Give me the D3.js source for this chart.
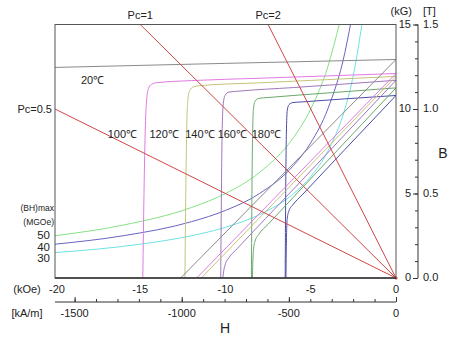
<!DOCTYPE html>
<html>
<head>
<meta charset="utf-8">
<script src="https://cdn.jsdelivr.net/npm/d3@7"></script>
<style>
  html, body { margin: 0; padding: 0; background: #fff; }
  svg text { font-family: "Liberation Sans", Arial, sans-serif; fill: #222; }
</style>
</head>
<body>
<svg id="chart" width="450" height="338"></svg>
<script>
// demagnetization curves, H in kOe, B / J in kG
const temps = ["20℃", "100℃", "120℃", "140℃", "160℃", "180℃"];

// intrinsic (J) curves per temperature
const jCurves = [
  [[-20, 12.46], [-10, 12.70], [0, 12.93]],
  [[-14.85, 0], [-14.78, 5], [-14.7, 9], [-14.62, 10.6], [-14.52, 11.2], [-14.35, 11.45], [-14.0, 11.56], [-12, 11.68], [-8, 11.82], [-4, 11.96], [0, 12.1]],
  [[-12.38, 0], [-12.33, 5], [-12.27, 9], [-12.2, 10.6], [-12.1, 11.1], [-11.9, 11.3], [-11.5, 11.38], [-8, 11.55], [-4, 11.74], [0, 11.93]],
  [[-10.28, 0], [-10.24, 5], [-10.19, 9], [-10.13, 10.3], [-10.03, 10.8], [-9.8, 11.0], [-9.3, 11.05], [-6, 11.27], [-3, 11.48], [0, 11.7]],
  [[-8.48, 0], [-8.45, 5], [-8.41, 8.5], [-8.36, 10.0], [-8.27, 10.45], [-8.05, 10.63], [-7.5, 10.68], [-4, 10.95], [0, 11.25]],
  [[-6.5, 0], [-6.47, 5], [-6.43, 8.5], [-6.38, 9.9], [-6.28, 10.25], [-6.05, 10.38], [-5.5, 10.42], [-3, 10.6], [0, 10.8]]
];

// normal (B) curves per temperature
const bCurves = [
  [[-12.63, 0], [-6, 6.79], [0, 12.93]],
  [[-11.69, 0], [-6, 5.89], [0, 12.1]],
  [[-11.42, 0], [-6, 5.65], [0, 11.93]],
  [[-10.16, 0], [-10.1, 0.45], [-10.0, 0.85], [-9.8, 1.2], [-9.3, 1.75], [-6, 5.27], [0, 11.7]],
  [[-8.42, 0], [-8.40, 0.8], [-8.36, 1.64], [-8.27, 2.18], [-8.05, 2.58], [-7.5, 3.18], [-4, 6.95], [0, 11.25]],
  [[-6.455, 0], [-6.43, 2.07], [-6.38, 3.52], [-6.28, 3.97], [-6.05, 4.33], [-5.5, 4.92], [-3, 7.6], [0, 10.8]]
];

// (BH)max contours, MGOe
const bhLevels = [50, 40, 30];
const bhCurves = [
  [[-20, 2.5], [-16, 3.13], [-12, 4.17], [-10, 5.0], [-8, 6.25], [-6, 8.33], [-5, 10.0], [-4, 12.5], [-3.33, 15]],
  [[-20, 2.0], [-16, 2.5], [-12, 3.33], [-10, 4.0], [-8, 5.0], [-6, 6.67], [-5, 8.0], [-4, 10.0], [-3, 13.33], [-2.67, 15]],
  [[-20, 1.5], [-15, 2.0], [-12, 2.5], [-10, 3.0], [-8, 3.75], [-6, 5.0], [-5, 6.0], [-4, 7.5], [-3, 10.0], [-2.5, 12.0], [-2, 15]]
];

// permeance lines
const pcNames = ["Pc=0.5", "Pc=1", "Pc=2"];
const pcLines = [
  [[-20, 10], [0, 0]],
  [[-15, 15], [0, 0]],
  [[-7.5, 15], [0, 0]]
];

const hTicks = [-20, -15, -10, -5, 0];
const kamTicks = [-1500, -1000, -500, 0];
const bTicks = [0, 5, 10, 15];
const tLabels = ["0.0", "0.5", "1.0", "1.5"];

const tempColors = ["#8a8a8a", "#e27ae2", "#c4c47a", "#9d77bb", "#6aa86a", "#4c4ca6"];
const bhColors = ["#86e086", "#6a64c4", "#6ee2e2"];
const red = "#cf4646";

const svg = d3.select("#chart");
const L = 55, R = 396, T = 24.5, B = 278;

const x = d3.scaleLinear().domain([-20, 0]).range([L, R]);
const y = d3.scaleLinear().domain([0, 15]).range([B, T]);
const xk = d3.scaleLinear().domain([-20 * 1000 / (4 * Math.PI), 0]).range([L, R]);

svg.append("defs").append("clipPath").attr("id", "clip")
  .append("rect").attr("x", L).attr("y", T).attr("width", R - L).attr("height", B - T);

const line = d3.line().x(d => x(d[0])).y(d => y(d[1])).curve(d3.curveMonotoneX);
const straight = d3.line().x(d => x(d[0])).y(d => y(d[1]));

const g = svg.append("g").attr("clip-path", "url(#clip)");

g.selectAll(".bh").data(bhCurves).enter().append("path")
  .attr("d", line).attr("fill", "none")
  .attr("stroke", (d, i) => bhColors[i]).attr("stroke-width", 1);

g.selectAll(".jc").data(jCurves).enter().append("path")
  .attr("d", line).attr("fill", "none")
  .attr("stroke", (d, i) => tempColors[i]).attr("stroke-width", 1);

g.selectAll(".bc").data(bCurves).enter().append("path")
  .attr("d", line).attr("fill", "none")
  .attr("stroke", (d, i) => tempColors[i]).attr("stroke-width", 1);

g.selectAll(".pc").data(pcLines).enter().append("path")
  .attr("d", straight).attr("fill", "none")
  .attr("stroke", red).attr("stroke-width", 1);

svg.append("circle").attr("cx", x(0)).attr("cy", y(0)).attr("r", 1.6).attr("fill", red);

// frame
svg.append("rect").attr("x", L).attr("y", T).attr("width", R - L).attr("height", B - T)
  .attr("fill", "none").attr("stroke", "#555").attr("stroke-width", 1);
svg.append("line").attr("x1", L).attr("x2", R).attr("y1", B).attr("y2", B)
  .attr("stroke", "#333").attr("stroke-width", 1.5);

// kOe labels under the frame
svg.selectAll(".hl").data(hTicks).enter().append("text")
  .attr("x", d => x(d) + (d === -20 ? 2 : 0)).attr("y", 293)
  .attr("text-anchor", "middle").attr("font-size", 11).text(d => d);
svg.append("text").attr("x", 27).attr("y", 293).attr("text-anchor", "middle")
  .attr("font-size", 11).text("(kOe)");

// kA/m axis
const kAxis = d3.axisTop(xk).tickValues(kamTicks).tickSize(5).tickFormat("");
const ka = svg.append("g").attr("transform", "translate(0,302)").call(kAxis);
ka.select(".domain").attr("stroke", "#333").attr("d", `M${L},0H${R}`);
ka.selectAll(".tick line").attr("stroke", "#333");
svg.append("g").attr("transform", "translate(0,302)")
  .call(d3.axisTop(xk).tickValues(d3.range(-1500, 1, 100)).tickSize(3).tickFormat(""))
  .call(s => s.select(".domain").remove())
  .selectAll(".tick line").attr("stroke", "#333");
svg.selectAll(".kl").data(kamTicks).enter().append("text")
  .attr("x", d => xk(d)).attr("y", 317).attr("text-anchor", "middle")
  .attr("font-size", 11).text(d => d);
svg.append("text").attr("x", 27).attr("y", 317).attr("text-anchor", "middle")
  .attr("font-size", 11).text("[kA/m]");
svg.append("text").attr("x", 225).attr("y", 333).attr("text-anchor", "middle")
  .attr("font-size", 14).text("H");

// right B axis
const AX = 418;
const bAxis = svg.append("g").attr("transform", `translate(${AX},0)`)
  .call(d3.axisLeft(y).tickValues(bTicks).tickSize(5).tickFormat(""));
bAxis.select(".domain").attr("stroke", "#333").attr("d", `M0,${T}V${B}`);
bAxis.selectAll(".tick line").attr("stroke", "#333");
svg.append("g").attr("transform", `translate(${AX},0)`)
  .call(d3.axisLeft(y).tickValues(d3.range(0, 16, 1)).tickSize(3).tickFormat(""))
  .call(s => s.select(".domain").remove())
  .selectAll(".tick line").attr("stroke", "#333");
svg.selectAll(".bl").data(bTicks).enter().append("text")
  .attr("x", 411).attr("y", d => y(d) + 3).attr("text-anchor", "end")
  .attr("font-size", 11).text(d => d);
svg.selectAll(".tl").data(tLabels).enter().append("text")
  .attr("x", 423).attr("y", (d, i) => y(bTicks[i]) + 3)
  .attr("font-size", 11).text(d => d);
svg.append("text").attr("x", 412).attr("y", 15).attr("text-anchor", "end")
  .attr("font-size", 11).text("(kG)");
svg.append("text").attr("x", 423).attr("y", 15).attr("font-size", 11).text("[T]");
svg.append("text").attr("x", 443).attr("y", 158).attr("text-anchor", "middle")
  .attr("font-size", 14).text("B");

// temperature labels
const tempPos = [[-17.8, 11.5], [-16.05, 8.3], [-13.6, 8.3], [-11.5, 8.3], [-9.6, 8.3], [-7.6, 8.3]];
svg.selectAll(".tmp").data(temps).enter().append("text")
  .attr("x", (d, i) => x(tempPos[i][0])).attr("y", (d, i) => y(tempPos[i][1]))
  .attr("text-anchor", "middle").attr("font-size", 11).text(d => d);

// Pc labels
svg.append("text").attr("x", 52).attr("y", y(10) + 4).attr("text-anchor", "end")
  .attr("font-size", 11).text(pcNames[0]);
svg.append("text").attr("x", x(-15)).attr("y", 19).attr("text-anchor", "middle")
  .attr("font-size", 11).text(pcNames[1]);
svg.append("text").attr("x", x(-7.5)).attr("y", 19).attr("text-anchor", "middle")
  .attr("font-size", 11).text(pcNames[2]);

// (BH)max legend
svg.append("text").attr("x", 54).attr("y", 211).attr("text-anchor", "end")
  .attr("font-size", 8.5).text("(BH)max");
svg.append("text").attr("x", 54).attr("y", 225).attr("text-anchor", "end")
  .attr("font-size", 8.5).text("(MGOe)");
svg.selectAll(".bhl").data(bhLevels).enter().append("text")
  .attr("x", 50).attr("y", (d, i) => 239 + i * 11.5).attr("text-anchor", "end")
  .attr("font-size", 11.5).text(d => d);
</script>
</body>
</html>
